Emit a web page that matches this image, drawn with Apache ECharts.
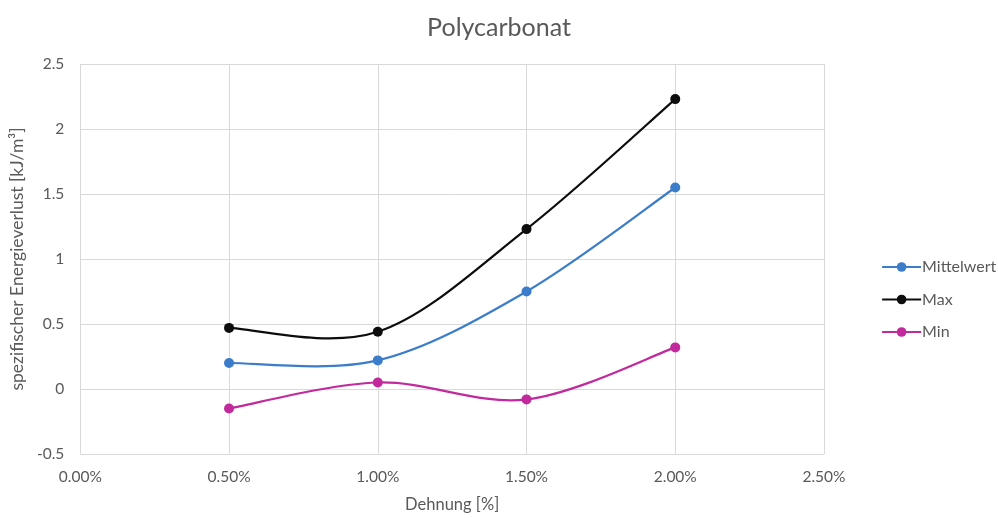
<!DOCTYPE html>
<html>
<head>
<meta charset="utf-8">
<script src="https://cdn.jsdelivr.net/npm/echarts@6/dist/echarts.min.js"></script>
<style>
  html, body { margin: 0; padding: 0; background: #ffffff; }
  #chart { width: 998px; height: 518px; }
</style>
</head>
<body>
<div id="chart"></div>
<script>
// Strain levels in percent
const dehnung = [0.5, 1.0, 1.5, 2.0];
// Specific energy loss [kJ/m³]
const mittelwert = [0.20, 0.22, 0.75, 1.55];
const maxWerte = [0.47, 0.44, 1.23, 2.23];
const minWerte = [-0.15, 0.05, -0.08, 0.32];

const seriesNames = ['Mittelwert', 'Max', 'Min'];
const seriesColors = ['#3b7dcb', '#0d0d0d', '#c2299c'];
const seriesValues = [mittelwert, maxWerte, minWerte];

const FONT = 'Lato, "Open Sans", sans-serif';
const TEXT = '#595959';
const GRID = '#d9d9d9';
const LINE_W = 2.2;

// Catmull-Rom style smoothing through the projected points (pixel space)
function smoothCurve(pts, color) {
  const children = [];
  for (let i = 0; i < pts.length - 1; i++) {
    const p0 = pts[i - 1] || pts[i];
    const p1 = pts[i];
    const p2 = pts[i + 1];
    const p3 = pts[i + 2] || pts[i + 1];
    children.push({
      type: 'bezierCurve',
      shape: {
        x1: p1[0], y1: p1[1],
        cpx1: p1[0] + (p2[0] - p0[0]) / 6, cpy1: p1[1] + (p2[1] - p0[1]) / 6,
        cpx2: p2[0] - (p3[0] - p1[0]) / 6, cpy2: p2[1] - (p3[1] - p1[1]) / 6,
        x2: p2[0], y2: p2[1]
      },
      style: { fill: null, stroke: color, lineWidth: LINE_W, lineCap: 'round' }
    });
  }
  return { type: 'group', children: children };
}

const pointSeries = seriesNames.map((name, i) => ({
  name: name,
  type: 'line',
  z: 4,
  symbol: 'circle',
  symbolSize: 10,
  color: seriesColors[i],
  lineStyle: { width: LINE_W, color: seriesColors[i], opacity: 0 },
  itemStyle: { color: seriesColors[i] },
  data: dehnung.map((x, j) => [x, seriesValues[i][j]])
}));

const curveSeries = seriesNames.map((name, i) => ({
  name: name,
  type: 'custom',
  z: 3,
  silent: true,
  encode: { x: 0, y: 1 },
  data: dehnung.map((x, j) => [x, seriesValues[i][j]]),
  renderItem: (params, api) => {
    if (params.dataIndex !== 0) return null;
    const pts = dehnung.map((x, j) => api.coord([x, seriesValues[i][j]]));
    return smoothCurve(pts, seriesColors[i]);
  }
}));

const chart = echarts.init(document.getElementById('chart'), null, { renderer: 'canvas' });

chart.setOption({
  backgroundColor: '#ffffff',
  animation: false,
  title: {
    text: 'Polycarbonat',
    left: 'center',
    top: 10,
    textStyle: { fontFamily: FONT, fontSize: 25, fontWeight: 'normal', color: TEXT }
  },
  legend: {
    orient: 'vertical',
    left: 876,
    top: 254,
    itemGap: 16.5,
    itemWidth: 39,
    itemHeight: 12,
    lineStyle: { opacity: 1, width: LINE_W },
    textStyle: { fontFamily: FONT, fontSize: 16, lineHeight: 16, color: TEXT, padding: [0, 0, 0, -4] },
    data: seriesNames
  },
  grid: { left: 80, right: 174, top: 64, bottom: 60, containLabel: false },
  xAxis: {
    type: 'value',
    min: 0,
    max: 2.5,
    interval: 0.5,
    name: 'Dehnung [%]',
    nameLocation: 'middle',
    nameGap: 42,
    nameTextStyle: { fontFamily: FONT, fontSize: 16.5, color: TEXT },
    axisLine: { show: false },
    axisTick: { show: false },
    axisLabel: {
      fontFamily: FONT, fontSize: 15.5, color: TEXT, margin: 15,
      formatter: v => v.toFixed(2) + '%'
    },
    splitLine: { show: true, lineStyle: { color: GRID, width: 1 } }
  },
  yAxis: {
    type: 'value',
    min: -0.5,
    max: 2.5,
    interval: 0.5,
    name: 'spezifischer Energieverlust [kJ/m³]',
    nameLocation: 'middle',
    nameGap: 54,
    nameTextStyle: { fontFamily: FONT, fontSize: 17.5, color: TEXT },
    axisLine: { show: false },
    axisTick: { show: false },
    axisLabel: { fontFamily: FONT, fontSize: 15.5, color: TEXT, margin: 16 },
    splitLine: { show: true, lineStyle: { color: GRID, width: 1 } }
  },
  series: pointSeries.concat(curveSeries)
});
</script>
</body>
</html>
